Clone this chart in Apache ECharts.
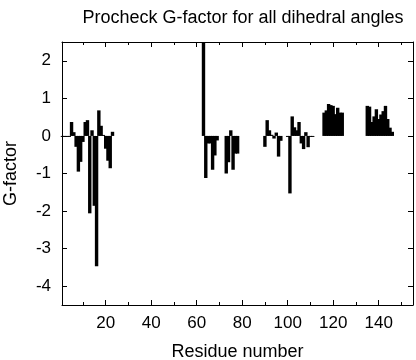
<!DOCTYPE html>
<html>
<head>
<meta charset="utf-8">
<script src="https://cdn.jsdelivr.net/npm/echarts@6/dist/echarts.min.js"></script>
<style>
html,body{margin:0;padding:0;background:#fff;}
#chart{width:416px;height:360px;}
</style>
</head>
<body>
<div id="chart"></div>
<script>
// Residue numbers and their Procheck G-factor values
const residues = [
  1, 2, 3, 4, 5, 6, 7, 8, 9, 10, 11, 12, 13, 14, 15, 16, 17, 18, 19, 20, 21, 22, 23,
  63, 64, 65, 66, 67, 68, 69, 73, 74, 75, 76, 77, 78,
  90, 91, 92, 93, 94, 95, 96, 97, 100, 101, 102, 103, 104, 105, 106, 107, 108, 109, 110, 111,
  116, 117, 118, 119, 120, 121, 122, 123, 124,
  135, 136, 137, 138, 139, 140, 141, 142, 143, 144, 145, 146
];
const gFactor = [
  0, 0, 0, 0, 0.37, 0.10, -0.29, -0.95, -0.69, -0.16, 0.37, 0.42, -2.06, 0.15, -1.86, -3.47, 0.68, 0.27, 0.02, -0.34, -0.66, -0.86, 0.11,
  2.8, -1.12, -0.20, -0.20, -0.90, -0.52, -0.12, -1.00, -0.70, 0.15, -0.90, -0.47, -0.47,
  -0.29, 0.42, 0.15, 0.03, -0.07, 0.09, -0.55, -0.13, 0, -1.53, 0.52, 0.23, 0.15, 0.37, -0.20, -0.35, 0.10, -0.30, 0, 0,
  0.62, 0.68, 0.85, 0.82, 0.80, 0.58, 0.75, 0.62, 0.62,
  0.80, 0.78, 0.37, 0.52, 0.71, 0.45, 0.57, 0.66, 0.80, 0.45, 0.22, 0.11
];
const xMajorTicks = [20, 40, 60, 80, 100, 120, 140];
const xMinorTicks = [10, 30, 50, 70, 90, 110, 130, 150];
const yTicks = [-4, -3, -2, -1, 0, 1, 2];
const xRange = [0.8, 155.1];
const yRange = [-4.5, 2.5];

const titleText = 'Procheck G-factor for all dihedral angles';
const xName = 'Residue number';
const yName = 'G-factor';

const FONT = '"Liberation Sans", Arial, Helvetica, sans-serif';
const black = '#000';

function xAx(pos, ticks, len, showLine, showLabel) {
  return {
    type: 'value', position: pos, min: xRange[0], max: xRange[1],
    axisLine: { show: showLine, onZero: false, lineStyle: { color: black, width: 1 } },
    axisTick: { show: true, inside: true, length: len, customValues: ticks, lineStyle: { color: black, width: 1 } },
    axisLabel: showLabel ? { show: true, customValues: ticks, color: black, fontSize: 17, fontFamily: FONT, margin: 10 } : { show: false },
    splitLine: { show: false }
  };
}

const chart = echarts.init(document.getElementById('chart'), null, { renderer: 'canvas' });
const main = xAx('bottom', xMajorTicks, 5, true, true);
main.name = xName;
main.nameLocation = 'middle';
main.nameGap = 38;
main.nameTextStyle = { color: black, fontSize: 18, fontFamily: FONT };

chart.setOption({
  animation: false,
  backgroundColor: '#fff',
  title: {
    text: titleText, left: 238, top: 4, textAlign: 'center',
    textStyle: { color: black, fontSize: 18, fontWeight: 'normal', fontFamily: FONT }
  },
  grid: { left: 62, right: 3, top: 42, bottom: 55, outerBoundsMode: 'none' },
  xAxis: [
    main,
    xAx('bottom', xMinorTicks, 3, false, false),
    xAx('top', xMajorTicks, 5, true, false),
    xAx('top', xMinorTicks, 3, false, false)
  ],
  yAxis: [
    {
      type: 'value', position: 'left', min: yRange[0], max: yRange[1],
      name: yName, nameLocation: 'middle', nameGap: 42,
      nameTextStyle: { color: black, fontSize: 18, fontFamily: FONT },
      axisLine: { show: true, onZero: false, lineStyle: { color: black, width: 1 } },
      axisTick: { show: true, inside: true, length: 5, customValues: yTicks, lineStyle: { color: black } },
      axisLabel: { customValues: yTicks, color: black, fontSize: 17, fontFamily: FONT, margin: 11 },
      splitLine: { show: false }
    },
    {
      type: 'value', position: 'right', min: yRange[0], max: yRange[1],
      axisLine: { show: true, onZero: false, lineStyle: { color: black, width: 1 } },
      axisTick: { show: true, inside: true, length: 5, customValues: yTicks, lineStyle: { color: black } },
      axisLabel: { show: false },
      splitLine: { show: false }
    }
  ],
  series: [{
    type: 'bar',
    xAxisIndex: 0, yAxisIndex: 0,
    data: residues.map((r, i) => [r, gFactor[i]]),
    barWidth: 3.4,
    barMaxWidth: 10,
    barMinHeight: 1,
    clip: true,
    silent: true,
    itemStyle: { color: black }
  }]
});
</script>
</body>
</html>
